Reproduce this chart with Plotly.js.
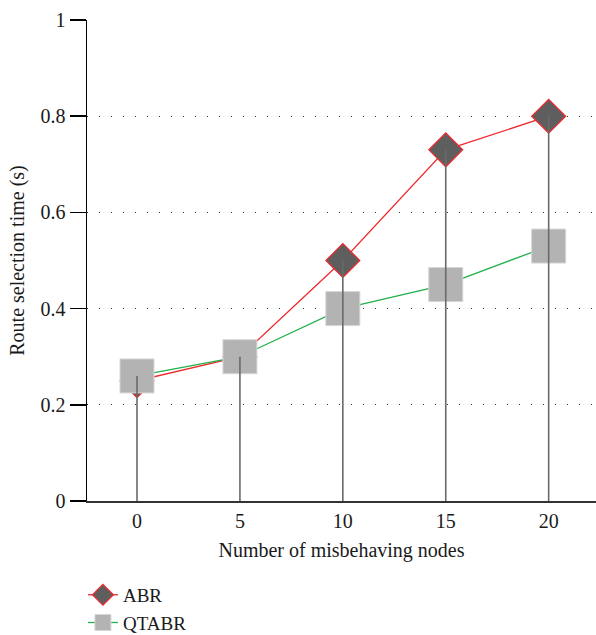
<!DOCTYPE html>
<html>
<head>
<meta charset="utf-8">
<script src="https://cdn.plot.ly/plotly-3.0.1.min.js"></script>
<style>html,body{margin:0;padding:0;background:#fff;}#chart{width:596px;height:635px;}</style>
</head>
<body>
<div id="chart"></div>
<script>
const nodes = [0, 5, 10, 15, 20];
const abr = [0.25, 0.30, 0.50, 0.73, 0.80];
const qtabr = [0.26, 0.30, 0.40, 0.45, 0.53];
const yTickVals = [0, 0.2, 0.4, 0.6, 0.8, 1];
const yTickText = ['0', '0.2', '0.4', '0.6', '0.8', '1'];

// vertical drop lines from the highest point at each x down to 0
const dropX = [], dropY = [];
nodes.forEach((x, i) => {
  dropX.push(x, x, null);
  dropY.push(0, Math.max(abr[i], qtabr[i]), null);
});

const font = {family: '"Liberation Serif", "DejaVu Serif", serif', color: '#1a1a1a'};
const fs = 20;

const traces = [
  {
    x: nodes, y: abr, name: 'ABR', type: 'scatter', mode: 'lines+markers',
    line: {color: '#ee2a2e', width: 1.3},
    marker: {symbol: 'diamond', size: 26, color: '#5e5e5e', line: {color: '#ee2a2e', width: 1.3}}
  },
  {
    x: nodes, y: qtabr, name: 'QTABR', type: 'scatter', mode: 'lines+markers',
    line: {color: '#21b04b', width: 1.3},
    marker: {symbol: 'square', size: 34, color: '#b3b3b3', line: {color: '#d6d6d6', width: 1}}
  },
  {
    x: dropX, y: dropY, type: 'scatter', mode: 'lines', showlegend: false, hoverinfo: 'skip',
    line: {color: '#6a6a6a', width: 1.6}
  }
];

const layout = {
  width: 596, height: 635,
  margin: {l: 87, r: 0, t: 20, b: 134},
  paper_bgcolor: '#fff', plot_bgcolor: '#fff',
  font: Object.assign({size: fs}, font),
  showlegend: true,
  legend: {
    xref: 'paper', yref: 'container',
    x: -0.008, y: 0.093, xanchor: 'left', yanchor: 'top',
    font: Object.assign({size: 19}, font),
    bgcolor: 'rgba(0,0,0,0)', tracegroupgap: 0
  },
  xaxis: {
    range: [-2.43, 22.3],
    tickvals: nodes, ticktext: nodes.map(String),
    ticks: 'outside', ticklen: 1, tickcolor: 'rgba(0,0,0,0)',
    showgrid: false, zeroline: false,
    showline: true, linecolor: '#333', linewidth: 1.5,
    tickfont: Object.assign({size: fs}, font),
    title: {text: 'Number of misbehaving nodes', font: Object.assign({size: fs}, font), standoff: 12}
  },
  yaxis: {
    range: [0, 1],
    tickvals: yTickVals, ticktext: yTickText,
    ticks: 'outside', ticklen: 16, tickcolor: '#000', tickwidth: 1.5,
    showgrid: true, gridcolor: '#333', griddash: '1px,11px', gridwidth: 1,
    zeroline: false,
    showline: true, linecolor: '#000', linewidth: 1.5,
    tickfont: Object.assign({size: fs}, font),
    title: {text: 'Route selection time (s)', font: Object.assign({size: fs}, font), standoff: 10}
  }
};

Plotly.newPlot('chart', traces, layout, {displayModeBar: false, staticPlot: true});
</script>
</body>
</html>
